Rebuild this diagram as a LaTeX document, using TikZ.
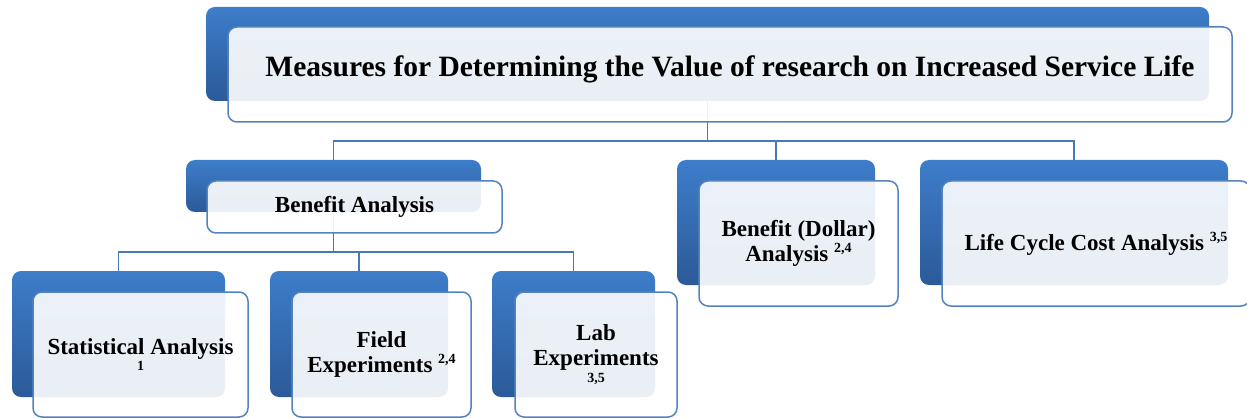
\documentclass[tikz,border=0pt]{standalone}
\usepackage{fontspec}
\setmainfont{Liberation Serif}

\definecolor{boxtop}{HTML}{3E7DCA}
\definecolor{boxbot}{HTML}{2B5A98}
\definecolor{boxline}{HTML}{5383BF}
\definecolor{linkcol}{HTML}{4A78B4}
\newcommand{\supnum}[1]{\raisebox{9pt}{\fontsize{14}{14}\selectfont #1}}
\newcommand{\smallnum}[1]{{\fontsize{14}{14}\selectfont #1}}

\begin{document}
\begin{tikzpicture}[x=1pt,y=1pt,
    back/.style={rounded corners=9pt, top color=boxtop, bottom color=boxbot,
        inner sep=0pt, outer sep=0pt},
    front/.style={rounded corners=9pt, draw=boxline, line width=1.5pt,
        fill=white, fill opacity=0.9, text opacity=1, inner sep=0pt,
        outer sep=0pt, align=center, font=\bfseries\fontsize{23}{25}\selectfont},
    link/.style={draw=linkcol, line width=1.5pt}]
    \useasboundingbox (0,0) rectangle (1247,418);

    % Cajas de fondo
    \node[back, minimum width=1003pt, minimum height=94pt] (topB) at (707.5,364) {};
    \node[back, minimum width=295pt, minimum height=52pt] (baB) at (333.5,232) {};
    \node[back, minimum width=198pt, minimum height=125pt] (bdB) at (776,195.5) {};
    \node[back, minimum width=308pt, minimum height=125pt] (lcB) at (1074,195.5) {};
    \node[back, minimum width=213pt, minimum height=126pt] (stB) at (118.5,84) {};
    \node[back, minimum width=178pt, minimum height=126pt] (feB) at (359,84) {};
    \node[back, minimum width=163pt, minimum height=126pt] (leB) at (573.5,84) {};

    % Enlaces primer nivel
    \coordinate (bus1) at (707.5,277);
    \draw[link] (topB.south) -- (bus1);
    \draw[link] (baB.north) |- (bus1) -| (lcB.north);
    \draw[link] (bdB.north) -- (bdB.north |- bus1);

    % Enlaces segundo nivel
    \coordinate (bus2) at (333.5,166);
    \draw[link] (baB.south) -- (bus2);
    \draw[link] (stB.north) |- (bus2) -| (leB.north);
    \draw[link] (feB.north) -- (feB.north |- bus2);

    % Cajas con texto
    \node[front, minimum width=1004pt, minimum height=95pt, text height=21pt,
        text depth=17pt, font=\bfseries\fontsize{29.5}{32}\selectfont] (top) at (730,343.5)
        {Measures for Determining the Value of research on Increased Service Life};
    \node[front, minimum width=295pt, minimum height=52pt] (ba) at (354.5,211)
        {Benefit Analysis};
    \node[front, minimum width=199pt, minimum height=125pt] (bd) at (798.5,174.5)
        {Benefit (Dollar)\\Analysis \supnum{2,4}};
    \node[front, minimum width=308pt, minimum height=125pt] (lc) at (1096,174.5)
        {Life Cycle Cost Analysis \supnum{3,5}};
    \node[front, minimum width=215pt, minimum height=125pt] (st) at (140.5,63.5)
        {Statistical Analysis\\[-9pt]\smallnum{1}};
    \node[front, minimum width=179pt, minimum height=125pt] (fe) at (381.5,63.5)
        {Field\\Experiments \supnum{2,4}};
    \node[front, minimum width=162pt, minimum height=125pt] (le) at (596,63.5)
        {Lab\\Experiments\\[-8pt]\smallnum{3,5}};
\end{tikzpicture}
\end{document}
